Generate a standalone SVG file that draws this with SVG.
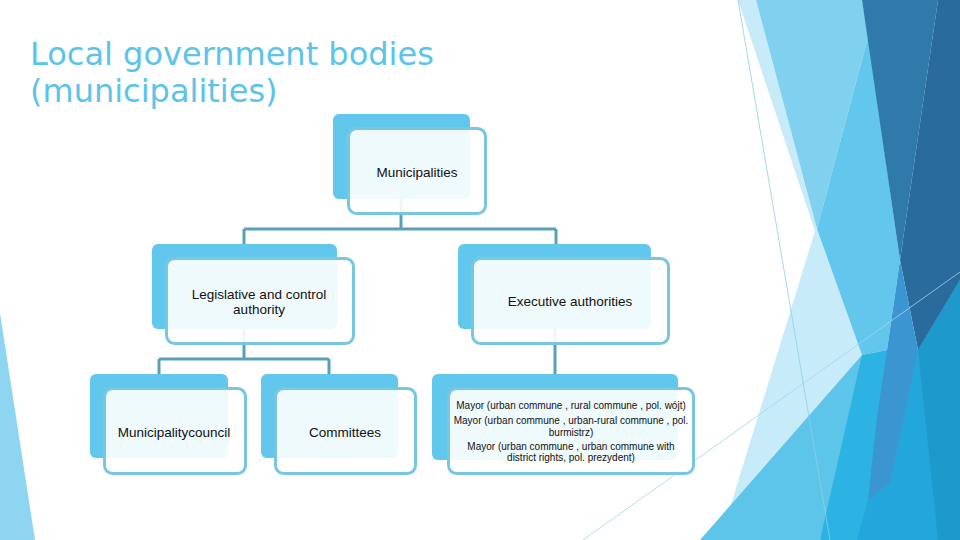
<svg xmlns="http://www.w3.org/2000/svg" width="960" height="540" viewBox="0 0 960 540">
<style>
.back{fill:#62c7ec}
.front{fill:#ffffff;fill-opacity:0.9;stroke:#78c6e1;stroke-width:3}
.lbl{font-family:"Liberation Sans",Arial,sans-serif;font-size:13.5px;fill:#111;text-anchor:middle}
.sm{font-family:"Liberation Sans",Arial,sans-serif;font-size:10px;fill:#111;text-anchor:middle}
.conn{fill:none;stroke:#5aa0b9;stroke-width:3}
.title{font-family:"DejaVu Sans",sans-serif;font-size:32px;fill:#5cc3e9}
</style>
<rect width="960" height="540" fill="#ffffff"/>
<g id="background">
<polygon points="0,313 35,540 0,540" fill="#8dd5f0"/>
<polygon points="738,0 756,0 817,229 862,355 760,540 720,540 815,231" fill="#c8ebf9"/>
<polygon points="756,0 862,0 868,37 817,229" fill="#80d0f0"/>
<polygon points="868,37 900,260 887,350 862,355 817,229" fill="#63c7ed"/>
<polygon points="700,540 862,355 918,350 820,540" fill="#5ec5ea"/>
<polygon points="862,355 887,350 918,350 960,280 960,540 820,540" fill="#2cb3e3"/>
<polygon points="918,350 890,483 868,500 857,540 960,540 960,280" fill="#22a6dc"/>
<polygon points="918,350 938,540 960,540 960,280" fill="#1e99cc"/>
<polygon points="862,0 938,0 900,260" fill="#3079ab"/>
<polygon points="938,0 960,0 960,280 918,350 900,260" fill="#2a6b9e"/>
<polygon points="900,260 918,350 890,483 868,500 877,417 887,350" fill="#3a95d0"/>
<line x1="738" y1="0" x2="830" y2="540" stroke="#8ccfe6" stroke-width="0.8"/>
<line x1="583" y1="540" x2="960" y2="272" stroke="#9fd6ea" stroke-width="0.8"/>
</g>
<g id="title">
<text class="title" x="30" y="65">Local government bodies</text>
<text class="title" x="30" y="102">(municipalities)</text>
</g>
<g id="connectors">
<path class="conn" d="M401,199 V229 M244,229 H556 M244,229 V244 M556,229 V244"/>
<path class="conn" d="M244,329 V359 M159,359 H329 M159,359 V374 M329,359 V374"/>
<path class="conn" d="M555,329 V374"/>
</g>
<g id="node-municipalities">
<rect class="back" x="333" y="114" width="137" height="85" rx="6"/>
<rect class="front" x="348.5" y="128.5" width="137" height="85" rx="8"/>
<text class="lbl" x="417" y="177">Municipalities</text>
</g>
<g id="node-legislative">
<rect class="back" x="152" y="244" width="185" height="85" rx="6"/>
<rect class="front" x="166.5" y="258.5" width="187" height="85" rx="8"/>
<text class="lbl" x="259" y="299">Legislative and control</text>
<text class="lbl" x="259" y="314">authority</text>
</g>
<g id="node-executive">
<rect class="back" x="458" y="244" width="193" height="85" rx="6"/>
<rect class="front" x="472.5" y="258.5" width="196" height="85" rx="8"/>
<text class="lbl" x="570" y="306">Executive authorities</text>
</g>
<g id="node-council">
<rect class="back" x="90" y="374" width="138" height="84" rx="6"/>
<rect class="front" x="104.5" y="388.5" width="141" height="85" rx="8"/>
<text class="lbl" x="174" y="437">Municipalitycouncil</text>
</g>
<g id="node-committees">
<rect class="back" x="261" y="374" width="137" height="84" rx="6"/>
<rect class="front" x="275.5" y="388.5" width="140" height="85" rx="8"/>
<text class="lbl" x="345" y="437">Committees</text>
</g>
<g id="node-mayor">
<rect class="back" x="432" y="374" width="246" height="86" rx="6"/>
<rect class="front" x="448.5" y="388.5" width="245" height="85" rx="8"/>
<text class="sm" x="571" y="409">Mayor (urban commune , rural commune , pol. wójt)</text>
<text class="sm" x="571" y="424">Mayor (urban commune , urban-rural commune , pol.</text>
<text class="sm" x="571" y="436">burmistrz)</text>
<text class="sm" x="571" y="450">Mayor (urban commune , urban commune with</text>
<text class="sm" x="571" y="461">district rights, pol. prezydent)</text>
</g>
</svg>
